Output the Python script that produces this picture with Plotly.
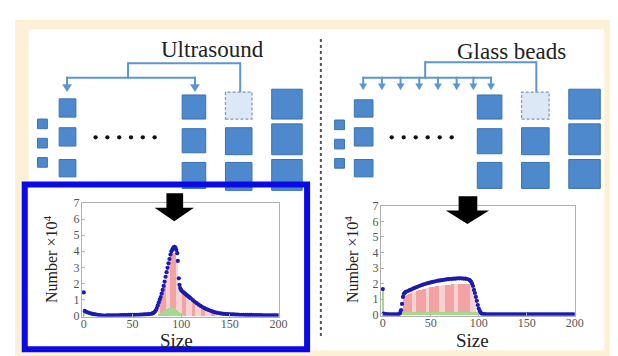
import plotly.graph_objects as go

W, H = 618, 356

# ---------------- data: ultrasound panel ----------------
us_size = [0, 1, 2, 4, 6, 8, 10, 12, 14, 16, 18, 20, 22, 24, 26, 28, 30, 32, 34, 36, 38, 40,
           42, 44, 46, 48, 50, 52, 54, 56, 58, 60, 62, 64, 66, 68, 70, 71, 72, 73, 74, 75, 76,
           77, 78, 79, 80, 81, 82, 83, 84, 85, 86, 87, 88, 89, 90, 91, 92, 93, 94, 95, 96,
           96.6, 97.6, 98.3, 99, 100, 101, 102, 103, 104, 105, 106, 107, 108, 109, 110, 112,
           114, 116, 118, 120, 122, 124, 126, 128, 130, 132, 134, 136, 138, 140, 142, 144,
           146, 148, 150, 152, 154, 156, 158, 160, 162, 164, 166, 168, 170, 172, 174, 176,
           178, 180, 182, 184, 186, 188, 190, 192, 194, 196, 198, 200]
us_num = [1.45, 0.30, 0.26, 0.21, 0.17, 0.13, 0.10, 0.08, 0.06, 0.04, 0.02, 0.01, 0.01, 0.02,
          0.02, 0.02, 0.03, 0.03, 0.03, 0.03, 0.04, 0.04, 0.04, 0.04, 0.05, 0.05, 0.05, 0.05,
          0.06, 0.06, 0.07, 0.07, 0.08, 0.09, 0.10, 0.11, 0.13, 0.16, 0.20, 0.26, 0.34, 0.48,
          0.64, 0.82, 1.00, 1.16, 1.38, 1.60, 1.85, 2.12, 2.42, 2.70, 2.97, 3.25, 3.52, 3.80,
          4.00, 4.12, 4.22, 4.27, 4.25, 4.08, 3.88, 3.40, 2.32, 1.92, 1.72, 1.60, 1.52, 1.47,
          1.42, 1.37, 1.32, 1.27, 1.22, 1.17, 1.12, 1.07, 0.97, 0.87, 0.78, 0.69, 0.61, 0.54,
          0.47, 0.41, 0.36, 0.31, 0.27, 0.23, 0.20, 0.17, 0.15, 0.13, 0.12, 0.11, 0.10, 0.09,
          0.08, 0.08, 0.07, 0.07, 0.06, 0.06, 0.06, 0.05, 0.05, 0.05, 0.05, 0.04, 0.04, 0.04,
          0.04, 0.04, 0.03, 0.03, 0.03, 0.03, 0.03, 0.03, 0.03, 0.03, 0.03]

us_pink_size = [78, 80, 82, 84, 86, 88, 90, 92, 94, 96, 98, 100, 102, 104, 106, 108, 110, 112,
                114, 116, 118, 120, 122, 124, 126, 128, 130, 132, 134, 136]
us_pink_num = [0.8, 1.2, 1.6, 2.2, 2.7, 3.2, 3.7, 3.9, 3.9, 3.5, 1.8, 1.45, 1.35, 1.25, 1.15,
               1.05, 0.95, 0.85, 0.75, 0.66, 0.58, 0.50, 0.44, 0.38, 0.32, 0.27, 0.22, 0.17,
               0.12, 0.08]

us_green_size = [0, 78, 80, 82, 84, 86, 88, 90, 92, 94, 96, 98, 100, 102]
us_green_num = [0.45, 0.10, 0.20, 0.30, 0.38, 0.43, 0.46, 0.47, 0.46, 0.42, 0.35, 0.25, 0.15, 0.06]

# ---------------- data: glass beads panel ----------------
gb_size = [0, 1, 2, 4, 6, 8, 10, 12, 14, 16, 17, 18, 19, 20, 21, 22, 23, 24, 26, 28, 30, 32,
           34, 36, 38, 40, 42, 44, 46, 48, 50, 52, 54, 56, 58, 60, 62, 64, 66, 68, 70, 72, 74,
           76, 78, 80, 82, 84, 86, 88, 90, 91, 92, 93, 94, 95, 96, 97, 98, 99, 100, 101, 102,
           103, 104, 106, 108, 110, 112, 114, 116, 118, 120, 122, 124, 126, 128, 130, 132, 134,
           136, 138, 140, 142, 144, 146, 148, 150, 152, 154, 156, 158, 160, 162, 164, 166, 168,
           170, 172, 174, 176, 178, 180, 182, 184, 186, 188, 190, 192, 194, 196, 198, 200]
gb_num = [1.65, 0.08, 0.05, 0.04, 0.03, 0.03, 0.03, 0.03, 0.03, 0.03, 0.05, 0.12, 0.30, 0.70,
          1.15, 1.35, 1.42, 1.47, 1.53, 1.58, 1.64, 1.70, 1.75, 1.80, 1.85, 1.90, 1.94, 1.98,
          2.02, 2.05, 2.08, 2.11, 2.14, 2.17, 2.19, 2.21, 2.23, 2.25, 2.27, 2.29, 2.30, 2.31,
          2.32, 2.33, 2.34, 2.34, 2.34, 2.33, 2.32, 2.30, 2.25, 2.20, 2.12, 2.00, 1.85, 1.60,
          1.40, 1.15, 0.90, 0.63, 0.40, 0.25, 0.14, 0.08, 0.05, 0.04, 0.03, 0.03, 0.03, 0.03,
          0.03, 0.03, 0.03, 0.03, 0.03, 0.03, 0.03, 0.03, 0.03, 0.03, 0.03, 0.03, 0.03, 0.03,
          0.03, 0.03, 0.03, 0.03, 0.03, 0.03, 0.03, 0.03, 0.03, 0.03, 0.03, 0.03, 0.03, 0.03,
          0.03, 0.03, 0.03, 0.03, 0.03, 0.03, 0.03, 0.03, 0.03, 0.03, 0.03, 0.03, 0.03, 0.03,
          0.03]

gb_pink_size = [22, 24, 26, 28, 30, 32, 34, 36, 38, 40, 42, 44, 46, 48, 50, 52, 54, 56, 58, 60,
                62, 64, 66, 68, 70, 72, 74, 76, 78, 80, 82, 84, 86, 88, 90, 92, 94, 96]
gb_pink_num = [1.15, 1.25, 1.30, 1.35, 1.40, 1.45, 1.50, 1.55, 1.60, 1.63, 1.66, 1.70, 1.73,
               1.76, 1.78, 1.80, 1.83, 1.85, 1.87, 1.89, 1.90, 1.92, 1.93, 1.95, 1.96, 1.97,
               1.98, 1.99, 2.00, 2.00, 2.01, 2.02, 2.02, 2.02, 2.00, 1.90, 1.70, 1.30]

gb_green_size = [0, 20, 22, 24, 26, 28, 30, 32, 34, 36, 38, 40, 42, 44, 46, 48, 50, 52, 54, 56,
                 58, 60, 62, 64, 66, 68, 70, 72, 74, 76, 78, 80, 82, 84, 86, 88, 90, 92, 94, 96, 98]
gb_green_num = [1.6, 0.18, 0.2, 0.2, 0.2, 0.2, 0.2, 0.2, 0.2, 0.2, 0.2, 0.2, 0.2, 0.2, 0.2, 0.2,
                0.2, 0.2, 0.2, 0.2, 0.2, 0.2, 0.2, 0.2, 0.2, 0.2, 0.2, 0.2, 0.2, 0.2, 0.2, 0.2,
                0.2, 0.2, 0.2, 0.2, 0.2, 0.2, 0.2, 0.2, 0.18]

x_ticks = [0, 50, 100, 150, 200]
y_ticks = [0, 1, 2, 3, 4, 5, 6, 7]

# ---------------- styles ----------------
DOT = "#1b1bb0"
PINK_DARK = "#f3a3a3"
PINK_LIGHT = "#f9d3d3"
GREEN = "#a6d98f"
SQ_FILL = "#4d89cc"
SQ_LINE = "#3b72b2"
BRACKET = "#5d96d4"
SERIF = "Liberation Serif"

us_dark_bands = [(79, 85), (89, 95), (101, 105), (111, 115), (121, 125), (131, 135)]
gb_dark_bands = [(21, 30), (35, 44), (50, 59), (65, 74), (79, 90)]


def stripe_colors(xs, bands):
    out = []
    for v in xs:
        dark = any(a <= v <= b for a, b in bands)
        out.append(PINK_DARK if dark else PINK_LIGHT)
    return out


def green_widths(xs):
    return [1.2 if v == 0 else 2 for v in xs]


fig = go.Figure()

for xa, ya, s, n, ps, pn, gs, gn, bands in [
    ("x", "y", us_size, us_num, us_pink_size, us_pink_num, us_green_size, us_green_num, us_dark_bands),
    ("x2", "y2", gb_size, gb_num, gb_pink_size, gb_pink_num, gb_green_size, gb_green_num, gb_dark_bands),
]:
    fig.add_trace(go.Bar(x=ps, y=pn, width=2, xaxis=xa, yaxis=ya,
                         marker=dict(color=stripe_colors(ps, bands), line=dict(width=0)),
                         showlegend=False, hoverinfo="skip"))
    fig.add_trace(go.Bar(x=gs, y=gn, width=green_widths(gs), xaxis=xa, yaxis=ya,
                         marker=dict(color=GREEN, line=dict(width=0)),
                         showlegend=False, hoverinfo="skip"))
    fig.add_trace(go.Scatter(x=s, y=n, mode="markers", xaxis=xa, yaxis=ya,
                             marker=dict(color=DOT, size=4.2, line=dict(width=0)),
                             showlegend=False, hoverinfo="skip"))


def px(p):
    return p / W


def py(p):
    return 1 - p / H


axis_common = dict(showline=True, mirror=True, linecolor="#b0b0b0", linewidth=1,
                   ticks="inside", ticklen=3, tickcolor="#b0b0b0", showgrid=False,
                   zeroline=False, tickfont=dict(family=SERIF, size=12, color="#555555"))

fig.update_layout(
    width=W, height=H, autosize=False,
    margin=dict(l=0, r=0, t=0, b=0),
    paper_bgcolor="white", plot_bgcolor="white",
    barmode="overlay", bargap=0,
    xaxis=dict(domain=[px(74), px(274)], range=[-2, 200], tickvals=x_ticks, anchor="y",
               ticklabelstandoff=-4, **axis_common),
    yaxis=dict(domain=[py(313), py(195)], range=[-0.05, 7], tickvals=y_ticks, anchor="x",
               ticklabelstandoff=-1, **axis_common),
    xaxis2=dict(domain=[px(378), px(575)], range=[-2, 200], tickvals=x_ticks, anchor="y2",
                ticklabelstandoff=-4, **axis_common),
    yaxis2=dict(domain=[py(312), py(198)], range=[-0.05, 7], tickvals=y_ticks, anchor="x2",
                ticklabelstandoff=-1, **axis_common),
)

shapes = []


def rect(x0, y0, x1, y1, fill, line=None, lw=0, dash="solid", layer="above"):
    shapes.append(dict(type="rect", xref="paper", yref="paper",
                       x0=px(x0), x1=px(x1), y0=py(y1), y1=py(y0),
                       fillcolor=fill, layer=layer,
                       line=dict(color=line if line else fill, width=lw, dash=dash)))


def seg(x0, y0, x1, y1, color, lw, dash="solid"):
    shapes.append(dict(type="line", xref="paper", yref="paper",
                       x0=px(x0), x1=px(x1), y0=py(y0), y1=py(y1),
                       line=dict(color=color, width=lw, dash=dash), layer="above"))


def poly(points, fill):
    d = "M " + " L ".join(f"{px(a):.5f},{py(b):.5f}" for a, b in points) + " Z"
    shapes.append(dict(type="path", xref="paper", yref="paper", path=d,
                       fillcolor=fill, line=dict(color=fill, width=0), layer="above"))


def sq(x0, y0, x1, y1):
    rect(x0, y0, x1, y1, SQ_FILL, SQ_LINE, 1)


def down_arrow(x, y0, y1, hw, hh):
    seg(x, y0, x, y1 - hh + 1, BRACKET, 2)
    poly([(x - hw, y1 - hh), (x + hw, y1 - hh), (x, y1)], BRACKET)


# background frame
rect(6, 5, 618, 356, "#fcf1d6", layer="below")
rect(20, 15, 605, 348, "#ffffff", layer="below")

# ---- left diagram ----
seg(121, 50, 235, 50, BRACKET, 2)
seg(121, 49, 121, 66, BRACKET, 2)
seg(58, 65, 190, 65, BRACKET, 2)
down_arrow(59, 64, 80, 5, 8)
down_arrow(189, 64, 80, 5, 8)
seg(235, 49, 235, 80, BRACKET, 2)
for yy in (108, 128, 148):
    sq(29, yy, 39, yy + 10)
for yy in ((87, 106), (117, 136), (150, 168)):
    sq(51, yy[0], 68, yy[1])
for i in range(6):
    cx = 88 + i * 12
    shapes.append(dict(type="circle", xref="paper", yref="paper",
                       x0=px(cx - 2.2), x1=px(cx + 2.2), y0=py(129.2), y1=py(124.8),
                       fillcolor="#111111", line=dict(width=0), layer="above"))
for yy in ((83, 108), (118, 143), (153, 180)):
    sq(176, yy[0], 200, yy[1])
rect(220, 80, 247, 108, "#dde8f6", "#7a97c2", 1.2, dash="3px,2px")
for yy in ((117, 145), (153, 182)):
    sq(220, yy[0], 247, yy[1])
for yy in ((77, 108), (113, 145), (150, 182)):
    sq(267, yy[0], 298, yy[1])

# ---- right diagram ----
seg(423, 49, 536, 49, BRACKET, 2)
seg(423, 48, 423, 66, BRACKET, 2)
seg(359, 65, 491, 65, BRACKET, 2)
for ax in (360, 379, 398, 417, 436, 455, 472, 490):
    down_arrow(ax, 64, 78, 4, 7)
seg(536, 48, 536, 80, BRACKET, 2)
for yy in (109, 129, 149):
    sq(331, yy, 341, yy + 10)
for yy in ((88, 106), (117, 136), (150, 168)):
    sq(351, yy[0], 370, yy[1])
for i in range(6):
    cx = 389 + i * 12.2
    shapes.append(dict(type="circle", xref="paper", yref="paper",
                       x0=px(cx - 2.2), x1=px(cx + 2.2), y0=py(129.2), y1=py(124.8),
                       fillcolor="#111111", line=dict(width=0), layer="above"))
for yy in ((83, 108), (118, 144), (153, 180)):
    sq(476, yy[0], 501, yy[1])
rect(521, 80, 549, 108, "#dde8f6", "#7a97c2", 1.2, dash="3px,2px")
for yy in ((117, 145), (153, 180)):
    sq(521, yy[0], 549, yy[1])
for yy in ((77, 108), (113, 145), (150, 180)):
    sq(569, yy[0], 601, yy[1])

# separator
seg(317, 25, 317, 336, "#555555", 2, dash="3px,3px")

# big black arrows
poly([(160, 185), (177, 185), (177, 200), (188, 200), (168, 214), (148, 200), (160, 200)], "#000000")
poly([(457, 188), (476, 188), (476, 203), (488, 203), (466, 217), (444, 203), (457, 203)], "#000000")

# highlight box
shapes.append(dict(type="rect", xref="paper", yref="paper",
                   x0=px(16), x1=px(303), y0=py(347), y1=py(176),
                   fillcolor="rgba(0,0,0,0)", line=dict(color="#0a0ae8", width=6), layer="above"))

fig.update_layout(shapes=shapes)

ann = []


def text(t, x, y, size, angle=0):
    ann.append(dict(text=t, xref="paper", yref="paper", x=px(x), y=py(y),
                    xanchor="center", yanchor="middle", showarrow=False, textangle=angle,
                    font=dict(family=SERIF, size=size, color="#222222")))


text("Ultrasound", 207, 36, 23)
text("Glass beads", 511, 38, 23)
text("Size", 170, 338, 19)
text("Size", 471, 338, 19)
text("Number ×10<sup>4</sup>", 42, 254, 16, -90)
text("Number ×10<sup>4</sup>", 348, 254, 16, -90)
fig.update_layout(annotations=ann)

fig.write_html("out.html")
